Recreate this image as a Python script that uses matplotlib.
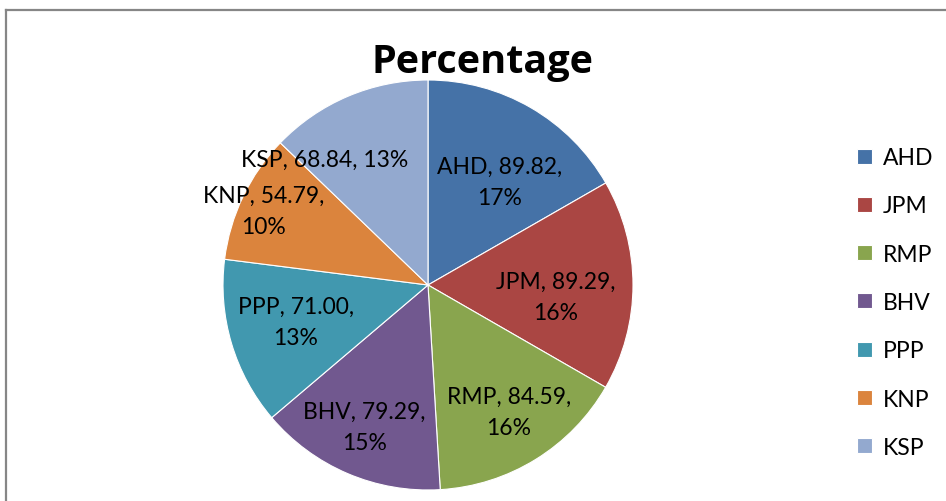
import matplotlib
matplotlib.use("Agg")
import matplotlib.pyplot as plt
import numpy as np

plt.rcParams['font.family'] = ['Lato', 'DejaVu Sans']

categories = ["AHD", "JPM", "RMP", "BHV", "PPP", "KNP", "KSP"]
values = [89.82, 89.29, 84.59, 79.29, 71.00, 54.79, 68.84]
pct_labels = ["17%", "16%", "16%", "15%", "13%", "10%", "13%"]
colors = ["#4572A7", "#AA4643", "#89A54E", "#71588F", "#4198AF", "#DB843D", "#93A9CF"]

# label placement (fraction of radius, angle shift in degrees) and line breaking
label_dist = [0.613, 0.627, 0.735, 0.758, 0.669, 0.878, 0.794]
label_shift = [-4.9, -5.4, 0.8, -0.9, -0.9, 1.3, 16.2]
label_sep = ["\n", "\n", "\n", "\n", "\n", "\n", " "]

W, H = 946, 502
fig = plt.figure(figsize=(W / 100, H / 100), dpi=100)

cx, cy, r = 428, 286, 205
ax = fig.add_axes([(cx - r) / W, (H - cy - r) / H, 2 * r / W, 2 * r / H])
wedges, _ = ax.pie(values, colors=colors, startangle=90, counterclock=False,
                   wedgeprops=dict(linewidth=0.8, edgecolor="white"))
ax.set_xlim(-1, 1)
ax.set_ylim(-1, 1)
ax.set_aspect("equal")
ax.axis("off")

for w, cat, v, p, d, s, sep in zip(wedges, categories, values, pct_labels,
                                   label_dist, label_shift, label_sep):
    mid = np.deg2rad((w.theta1 + w.theta2) / 2 + s)
    ax.text(d * np.cos(mid), d * np.sin(mid), f"{cat}, {v:.2f},{sep}{p}",
            ha="center", va="center", multialignment="center",
            fontsize=16.5, linespacing=1.6, color="black")

fig.text(482 / W, 1 - 63 / H, "Percentage", ha="center", va="center",
         fontsize=28.5, fontweight="bold", family=["Open Sans", "DejaVu Sans"])

leg = fig.legend(wedges, categories, loc="upper left",
                 bbox_to_anchor=(848 / W, 1 - 139 / H), frameon=False,
                 fontsize=16.5, handlelength=0.63, handleheight=0.63,
                 handletextpad=0.5, labelspacing=1.19, borderaxespad=0)

# outer chart border
fig.add_artist(plt.Line2D([6 / W, 6 / W], [0, 1 - 11 / H], transform=fig.transFigure,
                          color="#868686", linewidth=1.6))
fig.add_artist(plt.Line2D([6 / W, 1], [1 - 11 / H, 1 - 11 / H], transform=fig.transFigure,
                          color="#868686", linewidth=1.6))

fig.savefig("out.png", dpi=100)
